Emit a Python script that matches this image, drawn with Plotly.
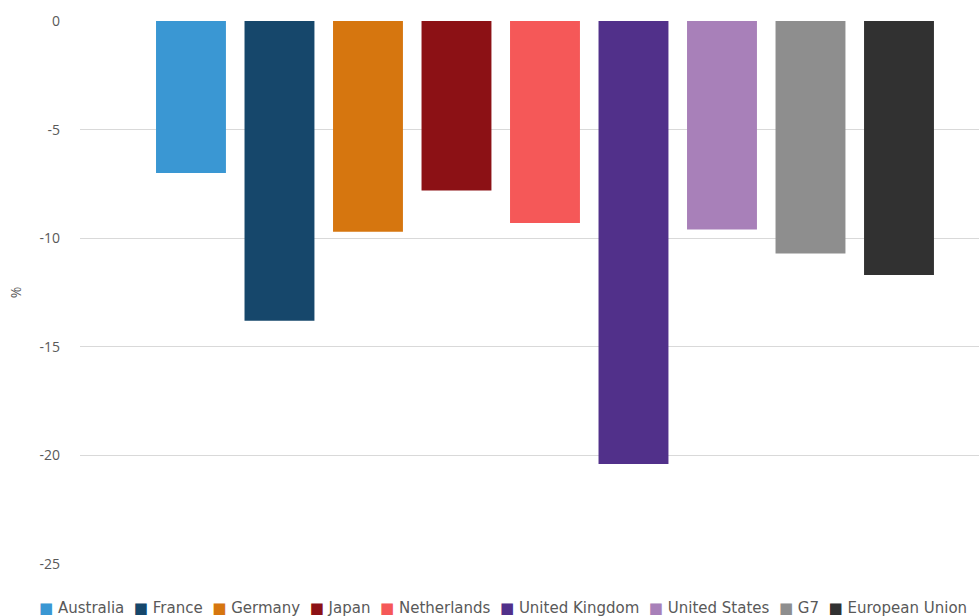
import plotly.graph_objects as go

countries = ["Australia", "France", "Germany", "Japan", "Netherlands",
             "United Kingdom", "United States", "G7", "European Union"]
values = [-7.0, -13.8, -9.7, -7.8, -9.3, -20.4, -9.6, -10.7, -11.7]
colors = ["#3A97D3", "#16476B", "#D6760F", "#8C1115", "#F55858",
          "#51308A", "#A880B9", "#8E8E8E", "#313131"]
y_ticks = [0, -5, -10, -15, -20, -25]

fig = go.Figure()
for name, v, c in zip(countries, values, colors):
    fig.add_trace(go.Bar(x=[name], y=[v], name=name, marker_color=c,
                         marker_line_width=0, width=0.79, showlegend=False))

legend_html = "&nbsp;&nbsp;".join(
    f'<span style="color:{c}">■</span>&nbsp;{n}' for n, c in zip(countries, colors)
)
fig.add_annotation(text=legend_html, xref="paper", yref="paper", x=0, y=0,
                   xanchor="left", yanchor="middle", xshift=-43, yshift=-44,
                   showarrow=False, font=dict(size=15, color="#595959", family="DejaVu Sans"))

fig.update_layout(
    width=979, height=616,
    margin=dict(l=80, r=0, t=21, b=52),
    plot_bgcolor="white", paper_bgcolor="white",
    barmode="overlay",
    font=dict(family="Open Sans", color="#595959", size=14),
    xaxis=dict(type="category", categoryorder="array", categoryarray=countries,
               range=[-1.254, 8.904], showticklabels=False, showgrid=False,
               zeroline=False, showline=False, ticks=""),
    yaxis=dict(range=[-25, 0], tickvals=y_ticks, ticktext=[str(t) for t in y_ticks],
               showgrid=True, gridcolor="#D9D9D9", gridwidth=1, zeroline=False,
               showline=False, ticks="", ticklabelstandoff=19,
               tickfont=dict(size=14, color="#595959"),
               title=dict(text="%", standoff=14, font=dict(size=14, color="#595959"))),
)

fig.write_html("out.html")
